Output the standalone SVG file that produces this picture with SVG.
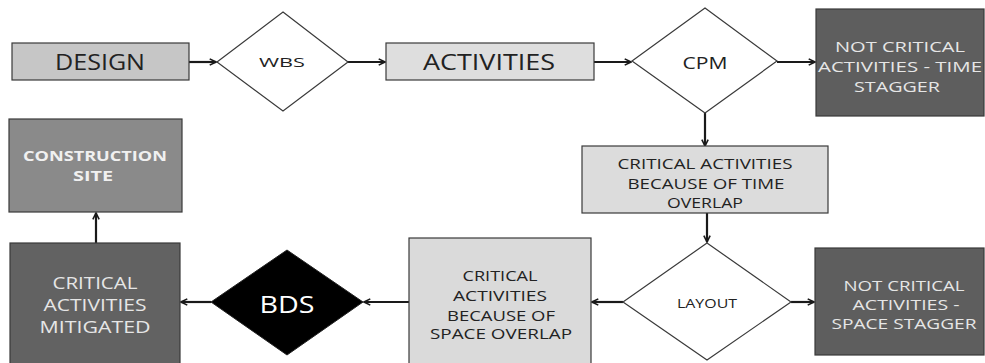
<svg xmlns="http://www.w3.org/2000/svg" width="985" height="363" viewBox="0 0 985 363">
<defs>
<marker id="arr" viewBox="0 0 10 10" refX="9" refY="5" markerWidth="9" markerHeight="9" orient="auto" markerUnits="userSpaceOnUse">
<path d="M2,1.5 L9,5 L2,8.5" fill="none" stroke="#1a1a1a" stroke-width="1.8"/>
</marker>
<style>
.box{stroke:#3a3a3a;stroke-width:1.2}
.dia{fill:#ffffff;stroke:#3a3a3a;stroke-width:1.2}
.t{font-family:"Open Sans","Noto Sans",sans-serif;text-anchor:middle;dominant-baseline:central}
.dk{fill:#222222}
.lt{fill:#e6e6e6}
.c{fill:none;stroke:#1a1a1a;stroke-width:2.2}
</style>
</defs>
<rect width="985" height="363" fill="#ffffff"/>
<g id="connectors">
<path class="c" d="M189,62 L216,62" marker-end="url(#arr)"/>
<path class="c" d="M348,62 L385,62" marker-end="url(#arr)"/>
<path class="c" d="M594,62 L631,62" marker-end="url(#arr)"/>
<path class="c" d="M777,62 L815,62" marker-end="url(#arr)"/>
<path class="c" d="M705,113 L705,146" marker-end="url(#arr)"/>
<path class="c" d="M707,213 L707,242" marker-end="url(#arr)"/>
<path class="c" d="M791,302 L814,302" marker-end="url(#arr)"/>
<path class="c" d="M623,302 L592,302" marker-end="url(#arr)"/>
<path class="c" d="M409,302 L364,302" marker-end="url(#arr)"/>
<path class="c" d="M211,302 L181,302" marker-end="url(#arr)"/>
<path class="c" d="M96,243 L96,213" marker-end="url(#arr)"/>
</g>
<g id="design">
<rect class="box" x="12" y="43" width="177" height="37" fill="#c6c6c6"/>
<text class="t dk" x="100" y="62" font-size="21" textLength="90" lengthAdjust="spacingAndGlyphs">DESIGN</text>
</g>
<g id="wbs">
<polygon class="dia" points="283,12 348,62 283,111 217,62"/>
<text class="t dk" x="282" y="62" font-size="13" textLength="46" lengthAdjust="spacingAndGlyphs">WBS</text>
</g>
<g id="activities">
<rect class="box" x="386" y="43" width="208" height="37" fill="#dedede"/>
<text class="t dk" x="489" y="62" font-size="21" textLength="132" lengthAdjust="spacingAndGlyphs">ACTIVITIES</text>
</g>
<g id="cpm">
<polygon class="dia" points="705,8 777,61 705,113 632,61"/>
<text class="t dk" x="705" y="62" font-size="17" textLength="45" lengthAdjust="spacingAndGlyphs">CPM</text>
</g>
<g id="not-critical-time">
<rect class="box" x="816" y="9" width="168" height="107" fill="#5e5e5e"/>
<text class="t lt" x="900" y="46" font-size="15" textLength="130" lengthAdjust="spacingAndGlyphs">NOT CRITICAL</text>
<text class="t lt" x="900" y="66" font-size="15" textLength="164" lengthAdjust="spacingAndGlyphs">ACTIVITIES - TIME</text>
<text class="t lt" x="897" y="86" font-size="15" textLength="86" lengthAdjust="spacingAndGlyphs">STAGGER</text>
</g>
<g id="critical-time">
<rect class="box" x="582" y="146" width="246" height="67" fill="#dcdcdc"/>
<text class="t dk" x="705" y="163" font-size="15" textLength="175" lengthAdjust="spacingAndGlyphs">CRITICAL ACTIVITIES</text>
<text class="t dk" x="706" y="183" font-size="15" textLength="157" lengthAdjust="spacingAndGlyphs">BECAUSE OF TIME</text>
<text class="t dk" x="705" y="202" font-size="15" textLength="76" lengthAdjust="spacingAndGlyphs">OVERLAP</text>
</g>
<g id="layout">
<polygon class="dia" points="707,243 791,302 707,360 623,302"/>
<text class="t dk" x="707" y="303" font-size="13" textLength="60" lengthAdjust="spacingAndGlyphs">LAYOUT</text>
</g>
<g id="not-critical-space">
<rect class="box" x="815" y="248" width="169" height="107" fill="#5e5e5e"/>
<text class="t lt" x="904" y="285" font-size="15" textLength="121" lengthAdjust="spacingAndGlyphs">NOT CRITICAL</text>
<text class="t lt" x="906" y="304" font-size="15" textLength="107" lengthAdjust="spacingAndGlyphs">ACTIVITIES -</text>
<text class="t lt" x="904" y="323" font-size="15" textLength="145" lengthAdjust="spacingAndGlyphs">SPACE STAGGER</text>
</g>
<g id="critical-space">
<rect class="box" x="409" y="238" width="182" height="130" fill="#dadada"/>
<text class="t dk" x="500" y="275" font-size="14" textLength="75" lengthAdjust="spacingAndGlyphs">CRITICAL</text>
<text class="t dk" x="500" y="295" font-size="14" textLength="94" lengthAdjust="spacingAndGlyphs">ACTIVITIES</text>
<text class="t dk" x="501" y="315" font-size="14" textLength="108" lengthAdjust="spacingAndGlyphs">BECAUSE OF</text>
<text class="t dk" x="501" y="333" font-size="14" textLength="142" lengthAdjust="spacingAndGlyphs">SPACE OVERLAP</text>
</g>
<g id="bds">
<polygon points="287,250 363,302 287,355 211,302" fill="#000000" stroke="#222" stroke-width="1"/>
<text class="t" x="287" y="304" font-size="23" fill="#ffffff" textLength="55" lengthAdjust="spacingAndGlyphs">BDS</text>
</g>
<g id="critical-mitigated">
<rect class="box" x="10" y="243" width="170" height="125" fill="#626262"/>
<text class="t lt" x="95" y="283" font-size="16" textLength="85" lengthAdjust="spacingAndGlyphs">CRITICAL</text>
<text class="t lt" x="95" y="305" font-size="16" textLength="103" lengthAdjust="spacingAndGlyphs">ACTIVITIES</text>
<text class="t lt" x="95" y="327" font-size="16" textLength="111" lengthAdjust="spacingAndGlyphs">MITIGATED</text>
</g>
<g id="construction-site">
<rect class="box" x="9" y="119" width="173" height="93" fill="#8a8a8a"/>
<text class="t" x="95" y="155" font-size="14" font-weight="bold" fill="#f0f0f0" textLength="144" lengthAdjust="spacingAndGlyphs">CONSTRUCTION</text>
<text class="t" x="93" y="175" font-size="14" font-weight="bold" fill="#f0f0f0" textLength="40" lengthAdjust="spacingAndGlyphs">SITE</text>
</g>
</svg>
